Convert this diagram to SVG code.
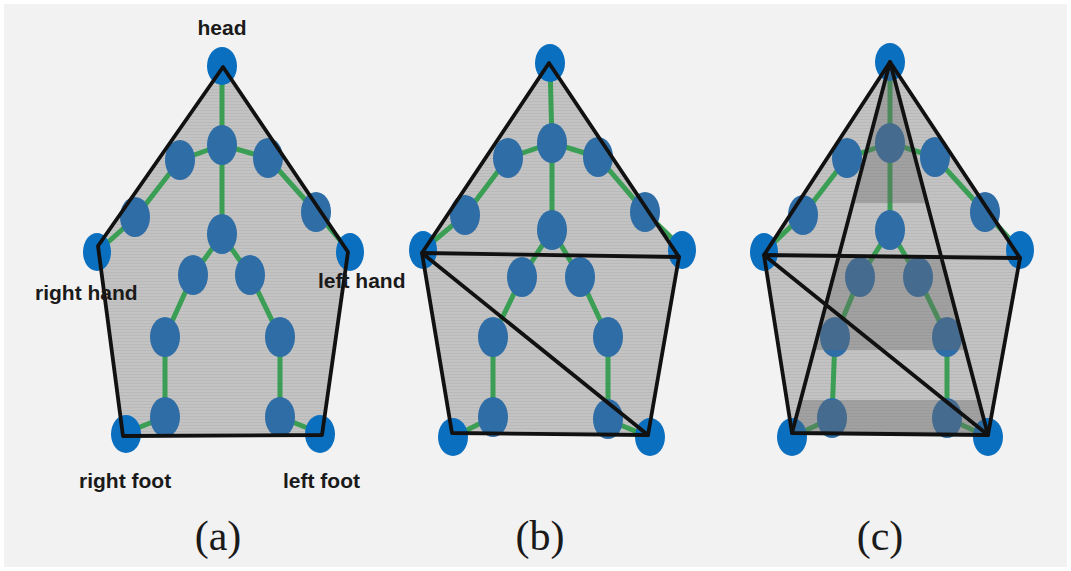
<svg xmlns="http://www.w3.org/2000/svg" width="1071" height="571" viewBox="0 0 1071 571">
<defs>
<style>
.bg{fill:#f2f2f2}
.poly{fill:url(#stripes);stroke:none}
.edge{stroke:#111;stroke-width:3.8;fill:none;stroke-linejoin:round;stroke-linecap:round}
.bone{stroke:#3b9e55;stroke-width:5;fill:none}
.j{fill:#2f6da6}
.e{fill:#0b6fc0}
.lbl{font-family:"Liberation Sans",Arial,sans-serif;font-weight:bold;font-size:21px;fill:#1a1a1a}
.cap{font-family:"Liberation Serif","Times New Roman",serif;font-size:42px;fill:#1a1a1a;text-anchor:middle}
.shade{fill:#6a6a6a;opacity:0.38}
</style>
<pattern id="stripes" width="4" height="3" patternUnits="userSpaceOnUse">
<rect width="4" height="3" fill="#c3c3c3"/>
<rect y="2" width="4" height="1" fill="#b9b9b9"/>
</pattern>
<clipPath id="tri"><polygon points="890,62 792,433 988,435"/></clipPath>
</defs>
<rect width="1071" height="571" fill="#ffffff"/>
<rect class="bg" x="4" y="4" width="1063" height="563"/>

<g id="panel-a">
<polygon class="poly" points="223,67 98,246 123,436 322,435 348,252"/>
<g id="skeleton-a">
<path class="bone" d="M222,66 L222,145 M222,145 L180,160 L135,218 L97,252 M222,145 L268,158 L316,212 L350,252 M222,145 L222,235 L193,275 L165,337 L165,417 L125,433 M222,235 L250,275 L280,337 L280,417 L320,433"/>
<ellipse class="e" cx="222" cy="66" rx="15" ry="19"/>
<ellipse class="j" cx="222" cy="145" rx="15" ry="20"/>
<ellipse class="j" cx="180" cy="160" rx="15" ry="20"/>
<ellipse class="j" cx="268" cy="158" rx="15" ry="20"/>
<ellipse class="j" cx="135" cy="217" rx="15" ry="20"/>
<ellipse class="j" cx="316" cy="212" rx="15" ry="20"/>
<ellipse class="e" cx="97" cy="252" rx="14" ry="19"/>
<ellipse class="e" cx="350" cy="252" rx="14" ry="19"/>
<ellipse class="j" cx="222" cy="234" rx="15" ry="20"/>
<ellipse class="j" cx="193" cy="275" rx="15" ry="20"/>
<ellipse class="j" cx="250" cy="275" rx="15" ry="20"/>
<ellipse class="j" cx="165" cy="337" rx="15" ry="20"/>
<ellipse class="j" cx="280" cy="337" rx="15" ry="20"/>
<ellipse class="j" cx="165" cy="417" rx="15" ry="20"/>
<ellipse class="j" cx="280" cy="417" rx="15" ry="20"/>
<ellipse class="e" cx="126" cy="434" rx="15" ry="19"/>
<ellipse class="e" cx="320" cy="434" rx="15" ry="19"/>
</g>
<polygon class="edge" points="223,67 98,246 123,436 322,435 348,252"/>
<text class="lbl" x="222" y="35" text-anchor="middle">head</text>
<text class="lbl" x="35" y="300">right hand</text>
<text class="lbl" x="318" y="288">left hand</text>
<text class="lbl" x="79" y="488">right foot</text>
<text class="lbl" x="283" y="488">left foot</text>
<text class="cap" x="218" y="550">(a)</text>
</g>

<g id="panel-b">
<polygon class="poly" points="549,63 422,253 452,433 648,435 679,257"/>
<g id="skeleton-b">
<path class="bone" d="M550,63 L552,143 M552,143 L508,158 L465,215 L423,250 M552,143 L598,157 L645,212 L682,248 M552,143 L552,230 L522,277 L493,337 L493,417 L453,437 M552,230 L580,277 L608,337 L608,420 L650,437"/>
<ellipse class="e" cx="550" cy="63" rx="15" ry="19"/>
<ellipse class="j" cx="552" cy="143" rx="15" ry="20"/>
<ellipse class="j" cx="508" cy="158" rx="15" ry="20"/>
<ellipse class="j" cx="598" cy="157" rx="15" ry="20"/>
<ellipse class="j" cx="465" cy="215" rx="15" ry="20"/>
<ellipse class="j" cx="645" cy="212" rx="15" ry="20"/>
<ellipse class="e" cx="423" cy="250" rx="14" ry="19"/>
<ellipse class="e" cx="682" cy="250" rx="14" ry="19"/>
<ellipse class="j" cx="552" cy="230" rx="15" ry="20"/>
<ellipse class="j" cx="522" cy="277" rx="15" ry="20"/>
<ellipse class="j" cx="580" cy="277" rx="15" ry="20"/>
<ellipse class="j" cx="493" cy="337" rx="15" ry="20"/>
<ellipse class="j" cx="608" cy="337" rx="15" ry="20"/>
<ellipse class="j" cx="493" cy="417" rx="15" ry="20"/>
<ellipse class="j" cx="608" cy="419" rx="15" ry="20"/>
<ellipse class="e" cx="453" cy="437" rx="15" ry="19"/>
<ellipse class="e" cx="650" cy="437" rx="15" ry="19"/>
</g>
<polygon class="edge" points="549,63 422,253 452,433 648,435 679,257"/>
<path class="edge" d="M422,253 L679,257 M422,253 L648,435"/>
<text class="cap" x="540" y="550">(b)</text>
</g>

<g id="panel-c">
<polygon class="poly" points="890,62 764,255 792,433 988,435 1020,258"/>
<g id="skeleton-c">
<path class="bone" d="M890,62 L890,143 M890,143 L847,158 L803,215 L764,252 M890,143 L935,157 L985,212 L1020,250 M890,143 L890,230 L860,277 L835,337 L832,418 L792,437 M890,230 L918,277 L947,337 L947,418 L988,437"/>
<ellipse class="e" cx="890" cy="62" rx="15" ry="19"/>
<ellipse class="j" cx="890" cy="143" rx="15" ry="20"/>
<ellipse class="j" cx="847" cy="158" rx="15" ry="20"/>
<ellipse class="j" cx="935" cy="157" rx="15" ry="20"/>
<ellipse class="j" cx="803" cy="215" rx="15" ry="20"/>
<ellipse class="j" cx="985" cy="212" rx="15" ry="20"/>
<ellipse class="e" cx="764" cy="252" rx="14" ry="19"/>
<ellipse class="e" cx="1020" cy="250" rx="14" ry="19"/>
<ellipse class="j" cx="890" cy="230" rx="15" ry="20"/>
<ellipse class="j" cx="860" cy="277" rx="15" ry="20"/>
<ellipse class="j" cx="918" cy="277" rx="15" ry="20"/>
<ellipse class="j" cx="835" cy="337" rx="15" ry="20"/>
<ellipse class="j" cx="947" cy="337" rx="15" ry="20"/>
<ellipse class="j" cx="832" cy="418" rx="15" ry="20"/>
<ellipse class="j" cx="947" cy="418" rx="15" ry="20"/>
<ellipse class="e" cx="792" cy="437" rx="15" ry="19"/>
<ellipse class="e" cx="988" cy="437" rx="15" ry="19"/>
</g>
<g id="inner-triangle" clip-path="url(#tri)">
<rect class="shade" x="780" y="60" width="220" height="143"/>
<rect class="shade" x="780" y="257" width="220" height="93"/>
<rect class="shade" x="780" y="400" width="220" height="36"/>
</g>
<polygon class="edge" points="890,62 764,255 792,433 988,435 1020,258"/>
<path class="edge" d="M764,255 L1020,258 M764,255 L988,435 M890,62 L792,433 M890,62 L988,435"/>
<text class="cap" x="880" y="550">(c)</text>
</g>
</svg>
